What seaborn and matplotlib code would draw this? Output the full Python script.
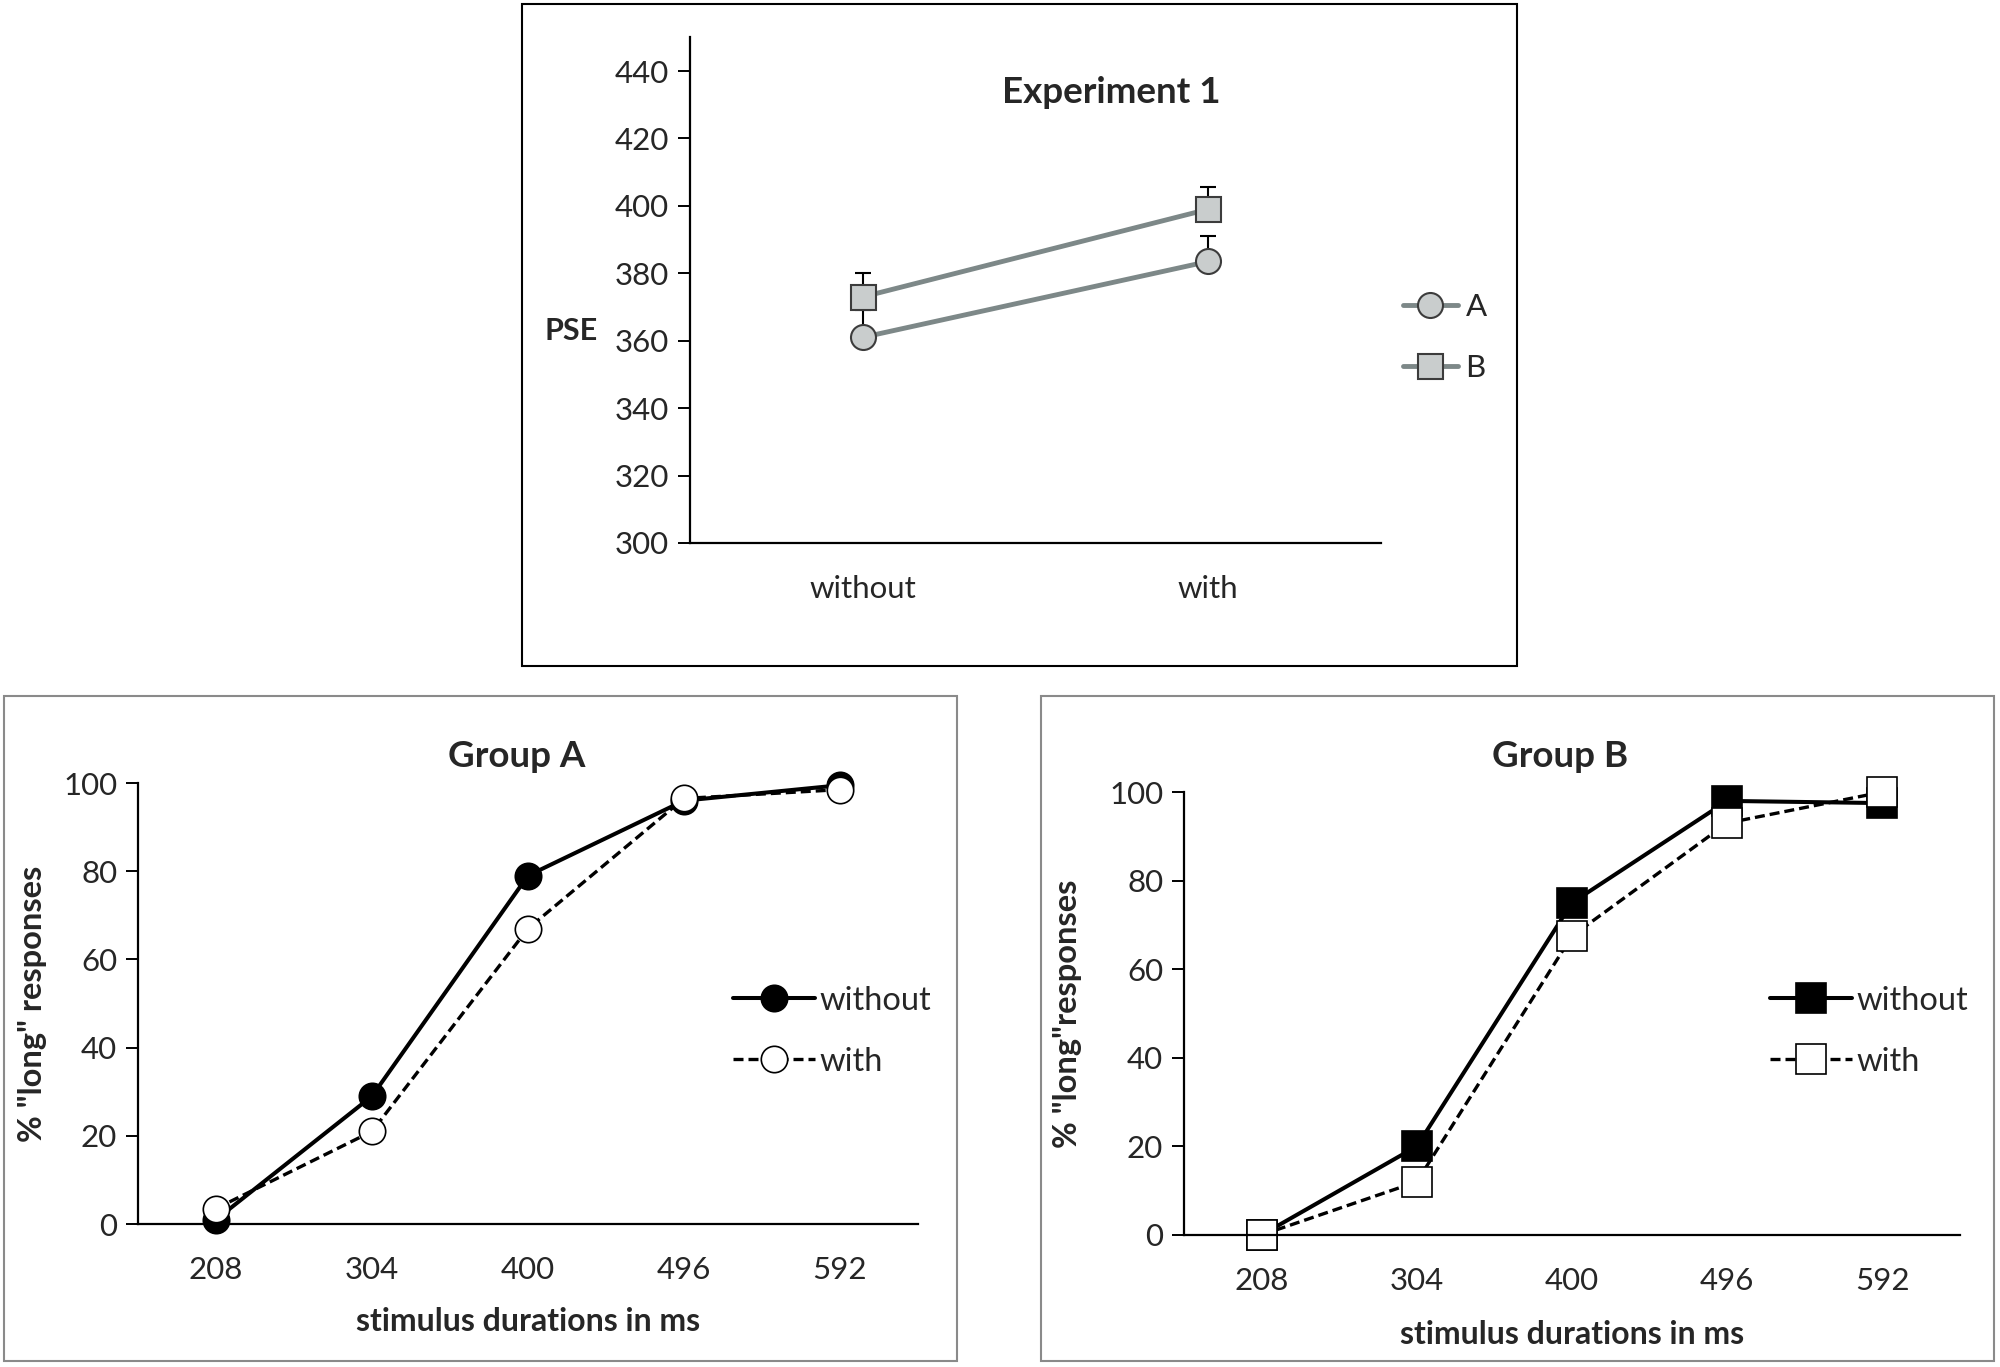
import numpy as np
import pandas as pd
import seaborn as sns
import matplotlib.pyplot as plt
from matplotlib.patches import Rectangle

sns.set_theme(style="white")
plt.rcParams['font.family'] = ['Lato', 'DejaVu Sans']

# Experiment 1: PSE per group and condition
conditions = ["without", "with"]
pse_a = [361, 383.5]
pse_b = [373, 399]
err_a = [8, 7.5]
err_b = [7, 6.5]

# psychometric data, % "long" responses
durations = ["208", "304", "400", "496", "592"]
grpA_without = [1, 29, 79, 96, 99.5]
grpA_with = [3.5, 21, 67, 96.5, 98.5]
grpB_without = [0, 20, 75, 98, 97.5]
grpB_with = [0, 12, 67.5, 93, 100]

fig = plt.figure(figsize=(20, 13.67), dpi=100)

# panel frames
fig.add_artist(Rectangle((0.261, 0.5128), 0.4975, 0.4843, transform=fig.transFigure,
                         fill=False, edgecolor='black', lw=1.5))
for x0 in (0.002, 0.5205):
    fig.add_artist(Rectangle((x0, 0.0044), 0.4765, 0.4865, transform=fig.transFigure,
                             fill=False, edgecolor='#8a8a8a', lw=1.5))

tick_fs = 22.5
grey_line = '#7d8888'
grey_face = '#c9cdcd'


def style_axis(ax, ncat):
    sns.despine(ax=ax)
    for s in ('left', 'bottom'):
        ax.spines[s].set_color('black')
        ax.spines[s].set_linewidth(1.6)
    ax.set_xticks(range(ncat))
    ax.set_xticks(np.arange(-0.5, ncat, 1.0), minor=True)
    ax.tick_params(axis='x', which='major', length=0, labelsize=tick_fs, pad=23)
    ax.tick_params(axis='x', which='minor', length=9, width=1.4, direction='out', color='black')
    ax.tick_params(axis='y', length=9, width=1.4, direction='out', color='black',
                   labelsize=tick_fs, pad=6, left=True)
    ax.set_xlim(-0.5, ncat - 0.5)


# ---- top panel: Experiment 1
ax = fig.add_axes([0.345, 0.6028, 0.3455, 0.3699])
pse_df = pd.DataFrame({
    'condition': conditions * 2,
    'pse': pse_a + pse_b,
    'group': ['A'] * 2 + ['B'] * 2,
})
for grp, vals, errs in (('A', pse_a, err_a), ('B', pse_b, err_b)):
    ax.errorbar(range(len(conditions)), vals, yerr=[np.zeros(len(vals)), errs],
                fmt='none', ecolor='black', elinewidth=1.5, capsize=6, capthick=1.5, zorder=1.5)
sns.pointplot(data=pse_df, x='condition', y='pse', hue='group', order=conditions,
              palette=[grey_line, grey_line], markers=['o', 's'], linestyles=['-', '-'],
              errorbar=None, legend=False, ax=ax,
              linewidth=3.5, markersize=18, markerfacecolor=grey_face,
              markeredgecolor='#3c3c3c', markeredgewidth=1.5)
for ln in ax.lines:
    ln.set_zorder(3)
style_axis(ax, len(conditions))
ax.set_ylim(300, 450)
ax.set_yticks(range(300, 441, 20))
ax.set_xlabel('')
ax.set_ylabel('PSE', rotation=0, fontsize=22, fontweight='bold', ha='center', va='center')
ax.yaxis.set_label_coords(-0.172, 0.42)
ax.text(0.609, 0.89, 'Experiment 1', transform=ax.transAxes, ha='center', va='center',
        fontsize=26.5, fontweight='bold')
ax.legend(handles=ax.lines[-2:], labels=['A', 'B'], loc='upper left',
          bbox_to_anchor=(0.7015, 0.7855), bbox_transform=fig.transFigure, frameon=False,
          fontsize=22.5, handlelength=1.75, handletextpad=0.25, labelspacing=1.05,
          borderpad=0, borderaxespad=0)


# ---- bottom panels
def group_panel(rect, without, with_, marker, msize, title, ylabel, ylab_x, title_y,
                legend_x, xlab_y):
    ax = fig.add_axes(rect)
    d_without = pd.DataFrame({'duration': durations, 'resp': without})
    d_with = pd.DataFrame({'duration': durations, 'resp': with_})
    sns.pointplot(data=d_without, x='duration', y='resp', order=durations, color='black',
                  marker=marker, linestyle='-', errorbar=None, ax=ax,
                  linewidth=2.9, markersize=msize, markerfacecolor='black',
                  markeredgecolor='black', markeredgewidth=1.2)
    sns.pointplot(data=d_with, x='duration', y='resp', order=durations, color='black',
                  marker=marker, linestyle=(0, (3, 1.5)), errorbar=None, ax=ax,
                  linewidth=2.4, markersize=msize, markerfacecolor='white',
                  markeredgecolor='black', markeredgewidth=1.2)
    for ln in ax.lines:
        ln.set_clip_on(False)
    style_axis(ax, len(durations))
    ax.set_ylim(0, 100)
    ax.set_yticks(range(0, 101, 20))
    ax.set_xlabel('stimulus durations in ms', fontsize=23, fontweight='bold')
    ax.xaxis.set_label_coords(0.5, xlab_y)
    ax.set_ylabel(ylabel, fontsize=23.5, fontweight='bold')
    ax.yaxis.set_label_coords(ylab_x, 0.5)
    ax.text(0.485, title_y, title, transform=ax.transAxes, ha='center', va='center',
            fontsize=26.5, fontweight='bold')
    ax.legend(handles=ax.lines[:2], labels=['without', 'with'], loc='upper left',
              bbox_to_anchor=(legend_x, 0.279), bbox_transform=fig.transFigure, frameon=False,
              fontsize=23.5, handlelength=2.5, handletextpad=0.15, labelspacing=0.95,
              borderpad=0, borderaxespad=0)
    return ax


group_panel([0.069, 0.1046, 0.39, 0.3226], grpA_without, grpA_with, 'o', 19,
            'Group A', '% "long" responses', -0.117, 1.06, 0.3665, -0.188)
group_panel([0.592, 0.0966, 0.388, 0.324], grpB_without, grpB_with, 's', 21,
            'Group B', '% "long"responses', -0.131, 1.08, 0.885, -0.192)

fig.savefig('out.png', dpi=100, facecolor='white')
